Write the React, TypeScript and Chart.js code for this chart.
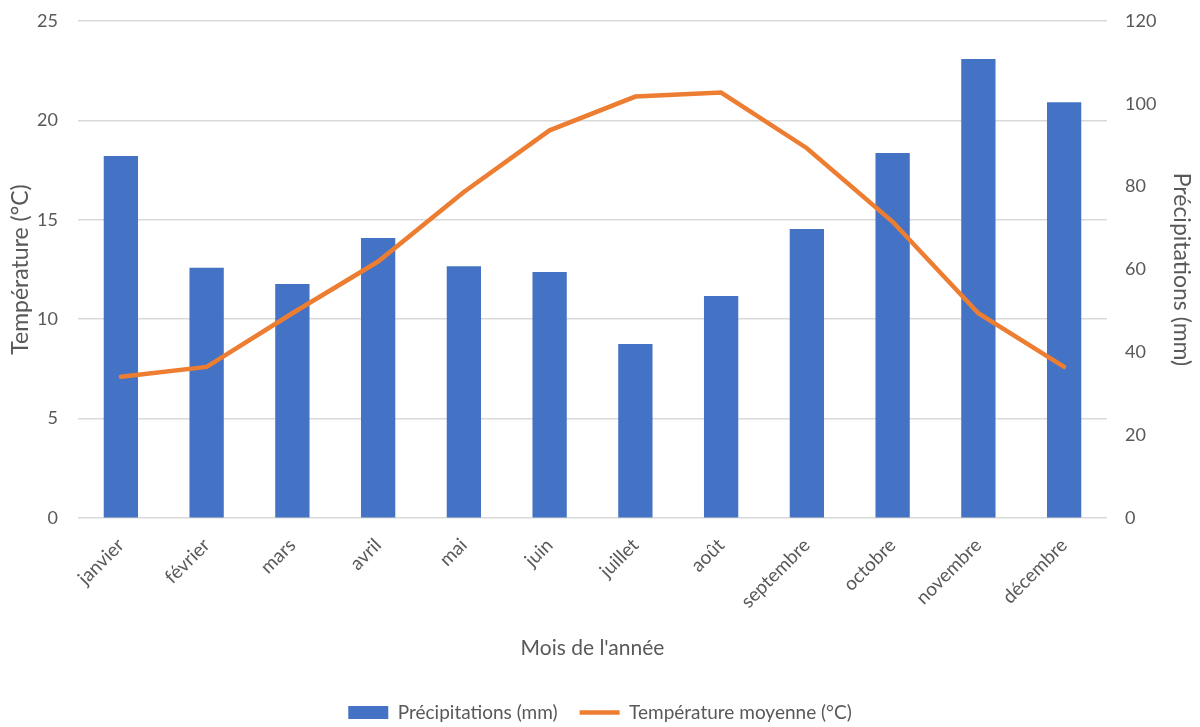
import React, { useEffect, useRef } from "react";
import { Chart, registerables } from "chart.js";

Chart.register(...registerables);

const months = ["janvier", "février", "mars", "avril", "mai", "juin", "juillet", "août", "septembre", "octobre", "novembre", "décembre"];
const precipitations = [87.4, 60.4, 56.5, 67.6, 60.8, 59.4, 42.0, 53.6, 69.8, 88.1, 110.8, 100.4];
const temperatures = [7.1, 7.6, 10.3, 12.9, 16.4, 19.5, 21.2, 21.4, 18.6, 14.9, 10.3, 7.6];

const FONT = "Lato, 'Open Sans', sans-serif";
const TEXT = "#595959";

export default function App() {
  const ref = useRef<HTMLCanvasElement>(null);
  useEffect(() => {
    document.body.style.margin = "0";
    const chart = new Chart(ref.current!, {
      data: {
        labels: months,
        datasets: [
          {
            type: "bar",
            label: "Précipitations (mm)",
            data: precipitations,
            backgroundColor: "#4472C4",
            borderWidth: 0,
            yAxisID: "yR",
            order: 1,
            categoryPercentage: 1,
            barPercentage: 0.4,
            pointStyle: "rect",
          } as any,
          {
            type: "line",
            label: "Température moyenne (°C)",
            data: temperatures,
            borderColor: "#ED7D31",
            backgroundColor: "#ED7D31",
            borderWidth: 4.5,
            pointRadius: 0,
            tension: 0,
            yAxisID: "yL",
            order: 0,
            pointStyle: "line",
            borderCapStyle: "round",
          } as any,
        ],
      },
      options: {
        animation: false,
        responsive: false,
        layout: { padding: { top: 21, bottom: -5, left: 0, right: 0 } },
        plugins: {
          tooltip: { enabled: false },
          legend: {
            position: "bottom",
            labels: {
              usePointStyle: true,
              pointStyleWidth: 40,
              boxHeight: 13,
              color: TEXT,
              font: { family: FONT, size: 19 },
              padding: 22,
              sort: (a: any, b: any) => a.datasetIndex - b.datasetIndex,
            },
          },
        },
        scales: {
          x: {
            grid: { display: false },
            border: { display: false },
            ticks: {
              color: TEXT,
              font: { family: FONT, size: 19 },
              minRotation: 45,
              maxRotation: 45,
              padding: 8,
            },
            title: {
              display: true,
              text: "Mois de l'année",
              color: TEXT,
              font: { family: FONT, size: 21 },
              padding: { top: 4, bottom: 20 },
            },
            afterFit: (s: any) => { s.height = 163; },
          },
          yL: {
            position: "left",
            min: 0,
            max: 25,
            ticks: { stepSize: 5, color: TEXT, font: { family: FONT, size: 18 }, padding: 3 },
            grid: { color: "#d9d9d9", lineWidth: 1.5, drawTicks: true, tickLength: 17, tickColor: "rgba(0,0,0,0)" },
            border: { display: false },
            title: {
              display: true,
              text: "Température (°C)",
              color: TEXT,
              font: { family: FONT, size: 23 },
              padding: { top: 7, bottom: 0 },
            },
            afterFit: (s: any) => { s.width = 78; },
          },
          yR: {
            position: "right",
            min: 0,
            max: 120,
            ticks: { stepSize: 20, color: TEXT, font: { family: FONT, size: 18 }, padding: 3 },
            grid: { display: true, color: "rgba(0,0,0,0)", drawOnChartArea: false, drawTicks: true, tickLength: 15, tickColor: "rgba(0,0,0,0)" },
            border: { display: false },
            title: {
              display: true,
              text: "Précipitations (mm)",
              color: TEXT,
              font: { family: FONT, size: 23 },
              padding: { top: 5, bottom: 0 },
            },
            afterFit: (s: any) => { s.width = 93; },
          },
        },
      },
    } as any);
    return () => chart.destroy();
  }, []);
  return (
    <div style={{ width: 1200, height: 727, background: "#fff" }}>
      <canvas ref={ref} width={1200} height={727} style={{ display: "block" }} />
    </div>
  );
}
